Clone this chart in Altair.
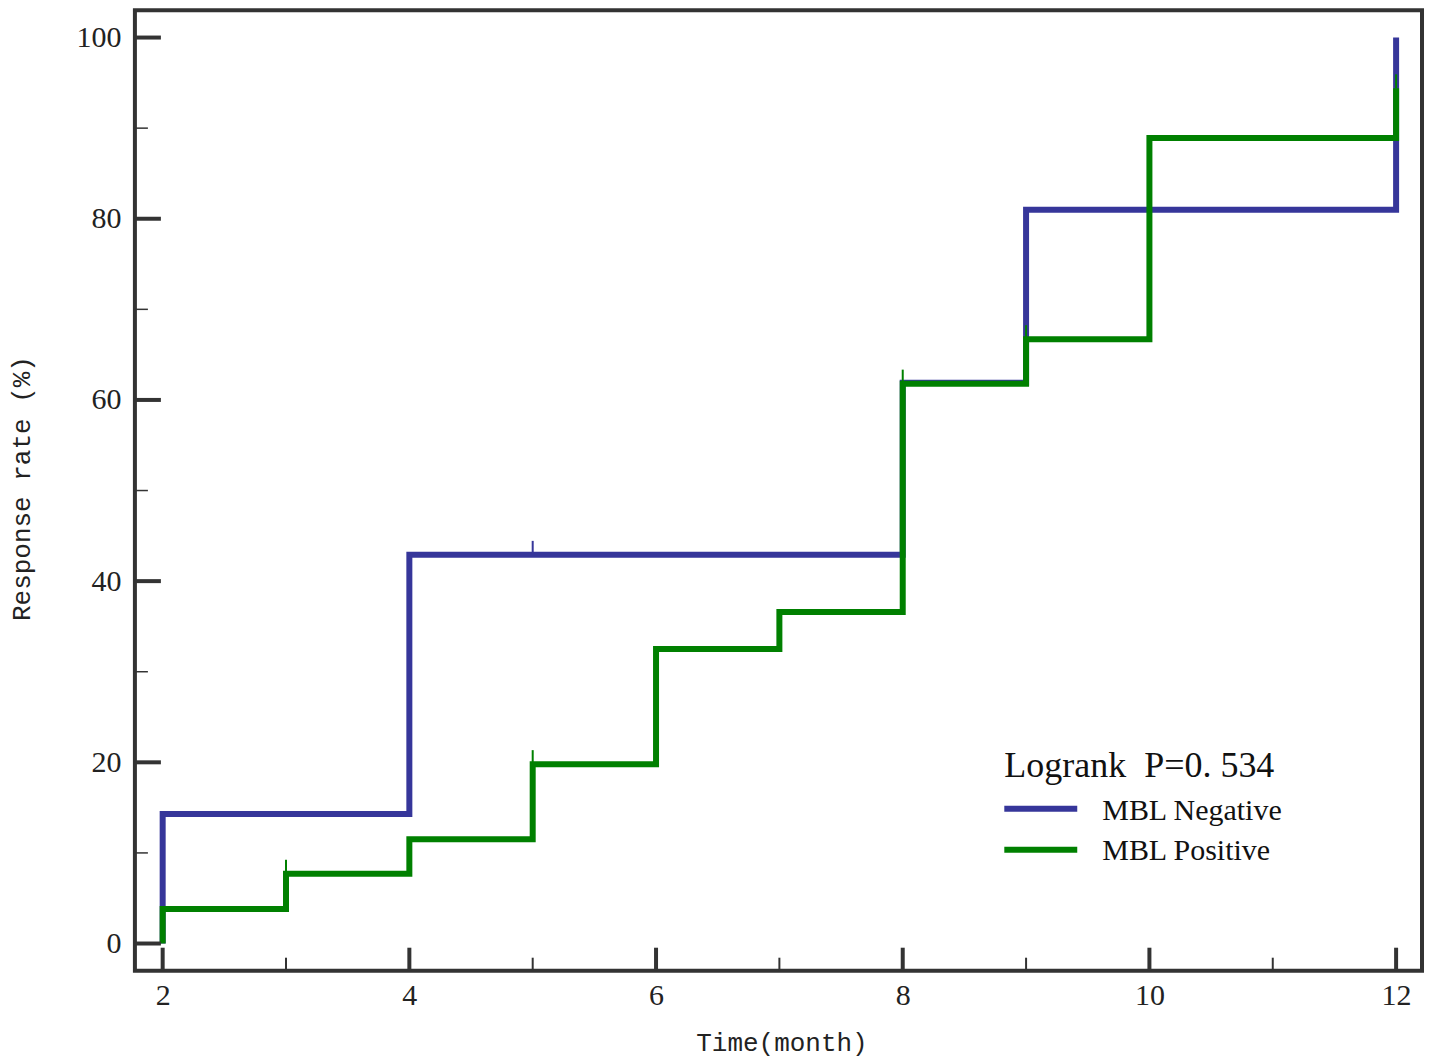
import altair as alt
import pandas as pd

# ---- data ----
neg_time = [2, 2, 4, 8, 9, 12]
neg_rate = [0, 14.3, 42.9, 61.9, 81.0, 100.0]
pos_time = [2, 2, 3, 4, 5, 6, 7, 8, 9, 10, 12]
pos_rate = [0, 3.8, 7.7, 11.5, 19.8, 32.5, 36.6, 61.8, 66.7, 88.9, 94.4]

neg_cens_time = [5]
neg_cens_rate = [42.9]
pos_cens_time = [3, 5, 8, 9, 12]
pos_cens_rate = [7.7, 19.8, 61.8, 66.7, 94.4]

x_major = [2, 4, 6, 8, 10, 12]
x_minor = [3, 5, 7, 9, 11]
y_major = [0, 20, 40, 60, 80, 100]
y_minor = [10, 30, 50, 70, 90]

series_names = ["MBL Negative", "MBL Positive"]
legend_title = "Logrank\u00a0\u00a0P=0.\u00a0534"
x_title = "Time(month)"
y_title = "Response rate (%)"

BLUE = "#36369a"
GREEN = "#008000"
AX = "#333333"
W, H = 1288, 961

rows = []
for i, (t, r) in enumerate(zip(neg_time, neg_rate)):
    rows.append({"time": t, "rate": r, "group": series_names[0], "i": i})
for i, (t, r) in enumerate(zip(pos_time, pos_rate)):
    rows.append({"time": t, "rate": r, "group": series_names[1], "i": i})
df = pd.DataFrame(rows)

cens = pd.DataFrame(
    [{"time": t, "rate": r, "group": series_names[0]} for t, r in zip(neg_cens_time, neg_cens_rate)]
    + [{"time": t, "rate": r, "group": series_names[1]} for t, r in zip(pos_cens_time, pos_cens_rate)]
)

xscale = alt.Scale(domain=[1.775, 12.21], nice=False, zero=False)
yscale = alt.Scale(domain=[-3, 103], nice=False, zero=False)
cscale = alt.Scale(domain=series_names, range=[BLUE, GREEN])

xaxis = alt.Axis(
    values=x_major, title=x_title, domain=False, ticks=False, grid=False,
    labelFont="Liberation Serif", labelFontSize=30, labelColor="#222222",
    labelPadding=10, labelFontWeight="normal",
    titleFont="Liberation Mono", titleFontSize=26, titleFontWeight="normal",
    titleColor="#222222", titleX=647, titleY=80, titleBaseline="alphabetic",
    titleAnchor="start", titleAlign="center",
)
yaxis = alt.Axis(
    values=y_major, title=y_title, domain=False, ticks=False, grid=False,
    labelFont="Liberation Serif", labelFontSize=30, labelColor="#222222",
    labelPadding=14, labelFontWeight="normal",
    titleFont="Liberation Mono", titleFontSize=26, titleFontWeight="normal",
    titleColor="#222222", titleX=-113, titleY=478, titleAngle=270,
    titleAlign="center", titleBaseline="middle",
)

def curve(name):
    return alt.Chart(df[df.group == name]).mark_line(
        interpolate="step-after", strokeWidth=6, strokeJoin="miter"
    ).encode(
        x=alt.X("time:Q", scale=xscale, axis=xaxis),
        y=alt.Y("rate:Q", scale=yscale, axis=yaxis),
        color=alt.Color("group:N", scale=cscale, legend=None),
        order=alt.Order("i:Q"),
    )

def censor(name):
    return alt.Chart(cens[cens.group == name]).mark_rule(strokeWidth=2, y2Offset=-14).encode(
        x=alt.X("time:Q", scale=xscale, axis=xaxis),
        y=alt.Y("rate:Q", scale=yscale, axis=yaxis),
        y2=alt.Y2("rate:Q"),
        color=alt.Color("group:N", scale=cscale, legend=None),
    )

# inward ticks
xmaj = alt.Chart(pd.DataFrame({"t": x_major})).mark_rule(color=AX, strokeWidth=4).encode(
    x=alt.X("t:Q", scale=xscale, axis=xaxis), y=alt.value(H), y2=alt.value(H - 23))
xmin = alt.Chart(pd.DataFrame({"t": x_minor})).mark_rule(color=AX, strokeWidth=2).encode(
    x=alt.X("t:Q", scale=xscale, axis=xaxis), y=alt.value(H), y2=alt.value(H - 13))
ymaj = alt.Chart(pd.DataFrame({"v": y_major})).mark_rule(color=AX, strokeWidth=4).encode(
    y=alt.Y("v:Q", scale=yscale, axis=yaxis), x=alt.value(0), x2=alt.value(26))
ymin = alt.Chart(pd.DataFrame({"v": y_minor})).mark_rule(color=AX, strokeWidth=1.5).encode(
    y=alt.Y("v:Q", scale=yscale, axis=yaxis), x=alt.value(0), x2=alt.value(13))

# legend
leg_title = alt.Chart(pd.DataFrame({"s": [legend_title]})).mark_text(
    font="Liberation Serif", fontSize=36, align="left", baseline="alphabetic", color="#111111"
).encode(x=alt.value(870), y=alt.value(767), text="s:N")

def leg_line(k, ypix):
    return alt.Chart(pd.DataFrame({"group": [series_names[k]]})).mark_rule(strokeWidth=6).encode(
        x=alt.value(870), x2=alt.value(943), y=alt.value(ypix),
        color=alt.Color("group:N", scale=cscale, legend=None),
    )

def leg_text(k, ypix):
    return alt.Chart(pd.DataFrame({"group": [series_names[k]]})).mark_text(
        font="Liberation Serif", fontSize=30, align="left", baseline="alphabetic", color="#111111"
    ).encode(x=alt.value(968), y=alt.value(ypix), text="group:N")

chart = alt.layer(
    curve(series_names[0]), censor(series_names[0]),
    curve(series_names[1]), censor(series_names[1]),
    xmaj, xmin, ymaj, ymin,
    leg_title, leg_line(0, 799), leg_line(1, 840), leg_text(0, 810), leg_text(1, 850),
).properties(
    width=W, height=H,
    autosize=alt.AutoSizeParams(type="none"),
    padding={"left": 127, "top": 2, "right": 10, "bottom": 92},
).configure(background="white").configure_view(stroke=AX, strokeWidth=4)

chart.save("out.html", embed_options={"renderer": "svg", "actions": False})
